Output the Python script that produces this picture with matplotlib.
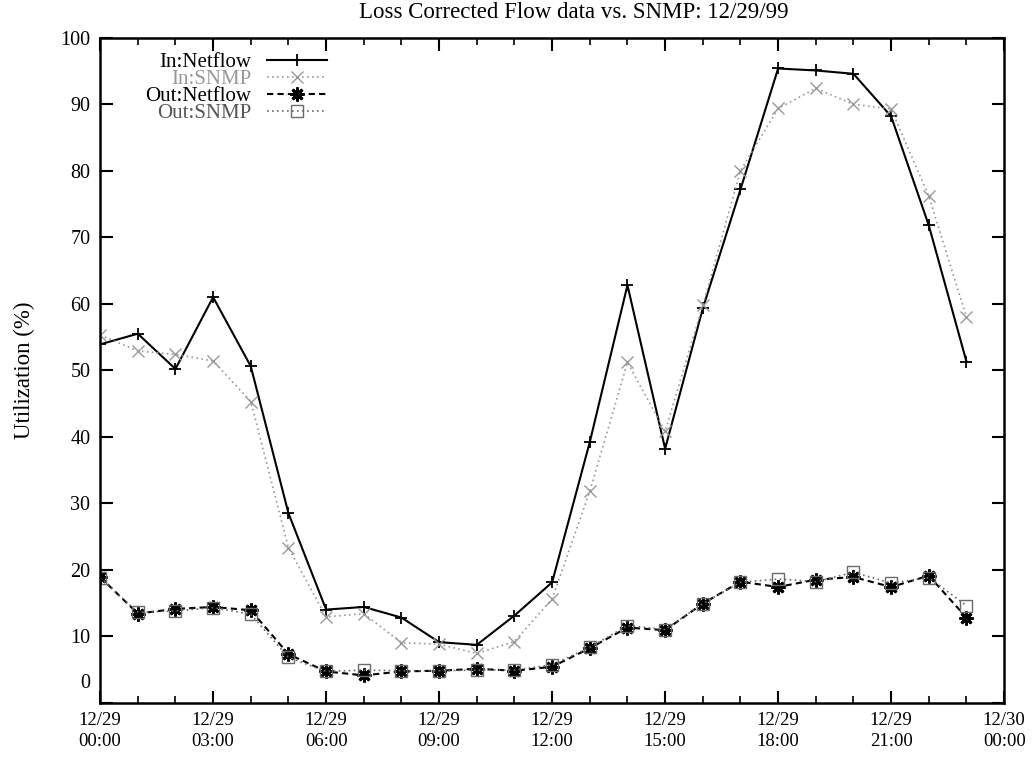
import numpy as np
import matplotlib.pyplot as plt
import matplotlib.transforms as mtransforms
from matplotlib.ticker import MultipleLocator

# ---------- data (hourly samples, 12/29/99) ----------
hours = np.arange(24)

in_netflow = [53.9, 55.5, 50.2, 61.0, 50.6, 28.5, 14.0, 14.4, 12.8, 9.1, 8.7, 13.1,
              18.1, 39.2, 62.8, 38.2, 59.3, 77.2, 95.4, 95.1, 94.6, 88.2, 71.8, 51.3]
in_snmp = [55.3, 52.9, 52.4, 51.4, 45.3, 23.3, 12.9, 13.4, 9.0, 8.8, 7.4, 9.2,
           15.6, 31.8, 51.2, 40.8, 59.8, 80.0, 89.4, 92.4, 90.0, 89.3, 76.2, 58.0]
out_netflow = [18.9, 13.4, 14.1, 14.4, 13.9, 7.3, 4.7, 4.1, 4.7, 4.8, 5.1, 4.8,
               5.4, 8.2, 11.3, 10.9, 14.9, 18.2, 17.4, 18.5, 18.9, 17.4, 19.1, 12.8]
out_snmp = [18.8, 13.6, 13.8, 14.3, 13.3, 6.8, 4.7, 4.9, 4.8, 4.8, 4.9, 4.9,
            5.7, 8.3, 11.6, 11.0, 14.9, 18.1, 18.6, 18.2, 19.6, 18.0, 18.8, 14.6]

xticks = [0, 3, 6, 9, 12, 15, 18, 21, 24]
xticklabels = ['12/29\n00:00', '12/29\n03:00', '12/29\n06:00', '12/29\n09:00',
               '12/29\n12:00', '12/29\n15:00', '12/29\n18:00', '12/29\n21:00',
               '12/30\n00:00']
yticks = list(range(0, 101, 10))

title = 'Loss Corrected Flow data vs. SNMP: 12/29/99'

# ---------- style ----------
plt.rcParams['font.family'] = ['Liberation Serif', 'DejaVu Serif']

fig = plt.figure(figsize=(10.32, 7.58), dpi=100)
ax = fig.add_axes([0.097, 0.073, 0.876, 0.877])

asterisk = (8, 2, 0)

ax.plot(hours, in_netflow, color='black', linewidth=1.5, linestyle='-',
        marker='+', markersize=9, markeredgewidth=1.3, label='In:Netflow')
ax.plot(hours, in_snmp, color='#999999', linewidth=1.2, linestyle=(0, (1, 2)),
        marker='x', markersize=9, markeredgewidth=1.0, label='In:SNMP')
ax.plot(hours, out_netflow, color='black', linewidth=1.5, linestyle=(0, (3, 2)),
        marker=asterisk, markersize=10, markeredgewidth=2.0, label='Out:Netflow')
ax.plot(hours, out_snmp, color='#6a6a6a', linewidth=1.2, linestyle=(0, (1, 2)),
        marker='s', markersize=8, markerfacecolor='none', markeredgewidth=1.0,
        label='Out:SNMP')

ax.set_xlim(0, 24)
ax.set_ylim(0, 100)

ax.set_xticks(xticks)
ax.set_xticklabels(xticklabels, fontsize=13.5, linespacing=1.25)
ax.xaxis.set_minor_locator(MultipleLocator(1))
ax.set_yticks(yticks)
ax.tick_params(axis='y', labelsize=14.5)

ax.tick_params(which='major', direction='in', top=True, right=True,
               length=9, width=1.5)
ax.tick_params(axis='x', which='major', pad=7)
ax.tick_params(axis='y', which='major', pad=7)
ax.tick_params(which='minor', direction='in', top=True, right=False,
               length=5, width=1.2)
ax.tick_params(axis='y', which='minor', left=False, right=False)

for s in ax.spines.values():
    s.set_linewidth(1.8)

ax.set_title(title, fontsize=16.5, pad=14, x=0.524)
ax.set_ylabel('Utilization (%)', fontsize=16.5, labelpad=18)

leg = ax.legend(loc='upper left', bbox_to_anchor=(0.05, 0.978), frameon=False,
                markerfirst=False, fontsize=15, handlelength=2.9,
                handletextpad=0.75, labelspacing=-0.12, borderpad=0, borderaxespad=0)
leg_colors = ['black', '#999999', 'black', '#555555']
for t, c in zip(leg.get_texts(), leg_colors):
    t.set_color(c)

# the "0" label sits a bit above the axis corner, as in the original
fig.canvas.draw()
lab0 = ax.yaxis.get_major_ticks()[0].label1
lab0.set_transform(lab0.get_transform() +
                   mtransforms.ScaledTranslation(0, 0.22, fig.dpi_scale_trans))

fig.savefig('out.png', dpi=100)
